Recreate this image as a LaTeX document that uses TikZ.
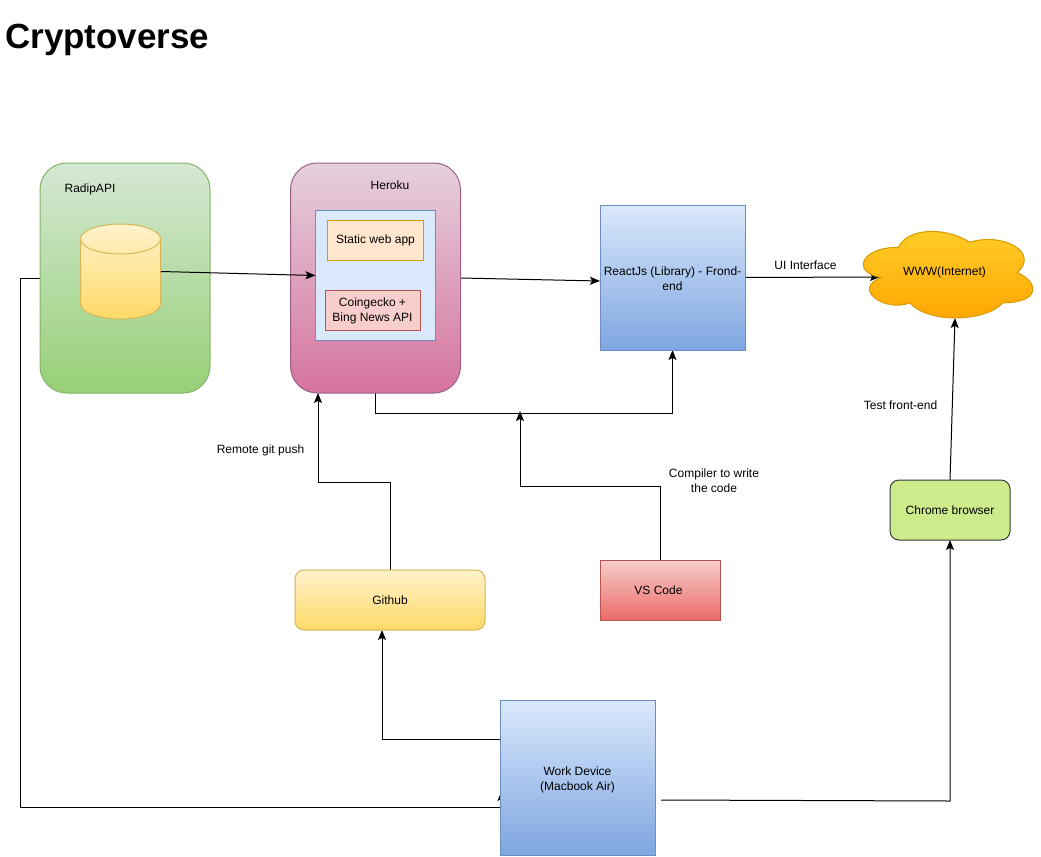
\documentclass[tikz,border=0pt]{standalone}
\usepackage{fontspec}
\setmainfont{Liberation Sans}
\usetikzlibrary{arrows.meta,backgrounds}
\definecolor{blueA}{HTML}{DAE8FC}\definecolor{blueB}{HTML}{7EA6E0}\definecolor{blueS}{HTML}{6C8EBF}
\definecolor{greenA}{HTML}{D5E8D4}\definecolor{greenB}{HTML}{97D077}\definecolor{greenS}{HTML}{82B366}
\definecolor{pinkA}{HTML}{E6D0DE}\definecolor{pinkB}{HTML}{D5739D}\definecolor{pinkS}{HTML}{996185}
\definecolor{yelA}{HTML}{FFF2CC}\definecolor{yelB}{HTML}{FFD966}\definecolor{yelS}{HTML}{D6B656}
\definecolor{orgF}{HTML}{FFE6CC}\definecolor{orgS}{HTML}{D79B00}
\definecolor{redA}{HTML}{F8CECC}\definecolor{redB}{HTML}{EA6B66}\definecolor{redS}{HTML}{B85450}
\definecolor{limeF}{HTML}{CDEB8B}\definecolor{limeS}{HTML}{36393D}
\definecolor{cloudA}{HTML}{FFCD28}\definecolor{cloudB}{HTML}{FFA500}\definecolor{cloudS}{HTML}{D79B00}
\tikzset{
  base/.style={inner sep=0pt,outer sep=0pt,line width=.75pt,align=center,font=\fontsize{9}{11.25}\selectfont},
  grad/.style n args={3}{base,draw=#3,top color=#1,bottom color=#2},
  label/.style={inner sep=0pt,align=center,font=\fontsize{9}{11.25}\selectfont},
  conn/.style={line width=.75pt,draw=black,-{Stealth[length=7.5pt,width=6pt,inset=1.6pt]}},
}
\begin{document}
\begin{tikzpicture}[x=.75pt,y=-.75pt]
\useasboundingbox (0,0) rectangle (1041,856);
% outer containers
\node[grad={greenA}{greenB}{greenS},rounded corners=20pt,minimum width=127.5pt,minimum height=172.5pt] (radip) at (125,278) {};
\node[grad={pinkA}{pinkB}{pinkS},rounded corners=20pt,minimum width=127.5pt,minimum height=172.5pt] (heroku) at (375.5,278) {};
\node[label] (radiplabel) at (90,189.5) {RadipAPI};
\node[label] (herokulabel) at (390,185) {Heroku};
% database cylinder
\node[inner sep=0pt,minimum width=60pt,minimum height=71.25pt] (cyl) at (120.5,271.5) {};
\draw[line width=.75pt,draw=yelS,top color=yelA,bottom color=yelB]
  (80.5,239) arc[start angle=180,end angle=0,x radius=30pt,y radius=11.25pt]
  -- (160.5,304) arc[start angle=0,end angle=-180,x radius=30pt,y radius=11.25pt] -- cycle;
\draw[line width=.75pt,draw=yelS]
  (80.5,239) arc[start angle=-180,end angle=0,x radius=30pt,y radius=11.25pt];
% heroku content
\node[base,draw=blueS,fill=blueA,minimum width=90pt,minimum height=97.5pt] (inner) at (375.5,275.5) {};
\node[base,draw=orgS,fill=orgF,minimum width=72pt,minimum height=30pt] (static) at (375.5,240) {Static web app};
\node[base,draw=redS,fill=redA,minimum width=71.25pt,minimum height=30pt] (coin) at (372.5,310) {};
\node[label] (cointext) at (372.5,311) {Coingecko +\\Bing News API};
% other boxes
\node[grad={blueA}{blueB}{blueS},minimum width=108.75pt,minimum height=108.75pt] (react) at (672.5,277.5) {};
\node[label] (reacttext) at (672.5,278.5) {ReactJs (Library) - Frond-\\end};
\path[line width=.75pt,draw=cloudS,top color=cloudA,bottom color=cloudB]
  (898.5,247.25) .. controls (860.5,247.25) and (851,272.5) .. (881.4,277.55)
  .. controls (851,288.66) and (885.2,312.9) .. (909.9,302.8)
  .. controls (927,323) and (984,323) .. (1003,302.8)
  .. controls (1040,302.8) and (1040,282.6) .. (1017.25,272.5)
  .. controls (1040,252.3) and (1003,232.1) .. (969.75,242.2)
  .. controls (946,227.05) and (908,227.05) .. (898.5,247.25) -- cycle;
\node[base,minimum width=140.25pt,minimum height=75.75pt] (cloud) at (944.5,272) {WWW(Internet)};
\node[base,draw=limeS,fill=limeF,rounded corners=6.75pt,minimum width=90pt,minimum height=45pt] (chrome) at (950,510) {Chrome browser};
\node[grad={yelA}{yelB}{yelS},rounded corners=6.75pt,minimum width=142.5pt,minimum height=45pt] (github) at (390,600) {Github};
\node[grad={redA}{redB}{redS},minimum width=90pt,minimum height=45pt] (vscode) at (660,590) {};
\node[label] (vstext) at (658.5,590) {VS Code};
\node[grad={blueA}{blueB}{blueS},minimum width=116.25pt,minimum height=116.25pt] (work) at (577.5,777.5) {};
\node[label] (worktext) at (577.5,780) {Work Device\\(Macbook Air)};
% free connector ends
\coordinate (herokuin) at (318,393);
\coordinate (reactin) at (600,281);
\coordinate (cloudin) at (880,277);
\coordinate (cloudbot) at (955,318);
\coordinate (junction) at (520,411);
\coordinate (workleft) at (501.5,791);
\coordinate (workright) at (661,800);
\coordinate (githubin) at (382,630);
\coordinate (chromeout) at (950,480);
% labels
\node[label] (uilabel) at (805.5,265) {UI Interface};
\node[label] (gitlabel) at (260.5,450) {Remote git push};
\node[label] (complabel) at (714,481) {Compiler to write\\the code};
\node[label] (testlabel) at (900.5,405) {Test front-end};
\node[font=\bfseries\fontsize{26.2}{32}\selectfont,inner sep=0pt,anchor=west] (title) at (5,39.5) {Cryptoverse};
% connectors
\begin{scope}[on background layer]
\fill[white] (0,0) rectangle (1041,856);
\draw[conn] (radip.west) -- (20,278) -- (20,807.5) -- (501.5,807.5) -- (workleft);
\draw[conn] (heroku.east) -- (reactin);
\draw[conn] (react.east) -- (cloudin);
\draw[conn] (heroku.south) -- (375.5,413) -- (672.5,413) -- (react.south);
\draw[conn] (vscode.north) -- (660,486) -- (520,486) -- (junction);
\draw[conn] (github.north) -- (390,482) -- (318,482) -- (herokuin);
\draw[conn] (work.west |- 0,739.5) -- (382,739.5) -- (githubin);
\draw[conn] (workright) -- (950,801) -- (chrome.south);
\draw[conn] (chromeout) -- (cloudbot);
\end{scope}
\draw[conn] (cyl.east) -- (inner.west);
\end{tikzpicture}
\end{document}
